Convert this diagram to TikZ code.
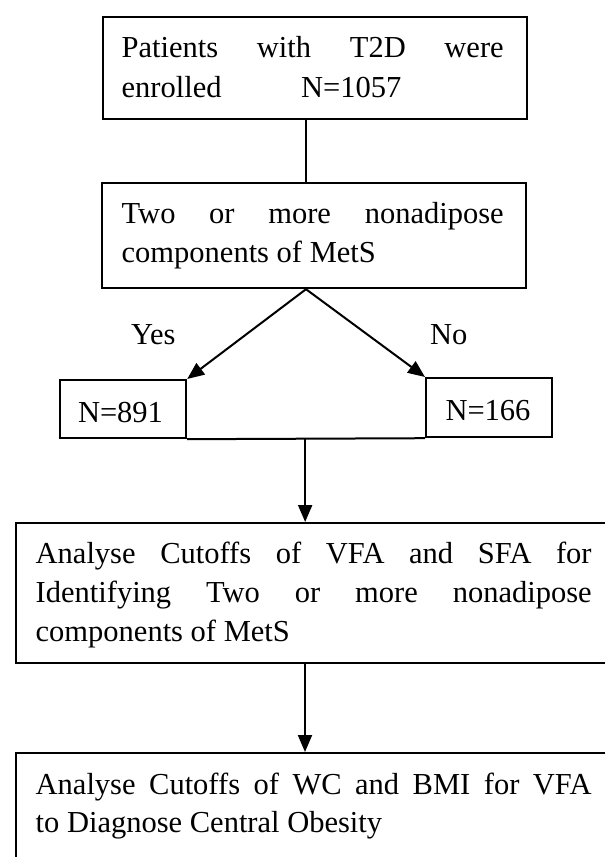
\documentclass[tikz,border=0pt]{standalone}
\usepackage{fontspec}
\setmainfont{Liberation Serif}
\usetikzlibrary{arrows.meta,calc}
\begin{document}
\begin{tikzpicture}[x=1pt,y=-1pt,
  box/.style={draw=black, line width=2.2pt, rectangle, inner sep=0pt, anchor=north west},
  txt/.style={inner sep=0pt, anchor=base west, font=\fontsize{30.5}{36}\selectfont},
  ctxt/.style={txt, anchor=base},
  conn/.style={draw=black, line width=2pt},
  arr/.style={conn, -{Triangle[length=17pt,width=14pt]}}]
\useasboundingbox (0,0) rectangle (605,857);
\clip (0,0) rectangle (605,857);
\fill[white] (0,0) rectangle (605,857);

% boxes
\node[box, minimum width=424pt, minimum height=102pt] (b1) at (102,16) {};
\node[box, minimum width=424pt, minimum height=105pt] (b2) at (101,182) {};
\node[box, minimum width=126pt, minimum height=58pt] (b891) at (59,379) {};
\node[box, minimum width=126pt, minimum height=59pt] (b166) at (425,377) {};
\node[box, minimum width=640pt, minimum height=140pt] (b3) at (15,522) {};
\node[box, minimum width=640pt, minimum height=150pt] (b4) at (15,752) {};

% texts
\node[txt] (t1a) at (121.5,57) {\makebox[382pt][s]{Patients with T2D were}};
\node[txt] (t1b) at (121.5,97) {enrolled\hspace*{79.5pt}N=1057};
\node[txt] (t2a) at (121.5,223) {\makebox[382pt][s]{Two or more nonadipose}};
\node[txt] (t2b) at (121.5,262) {components of MetS};
\node[txt] (yes) at (131,344) {Yes};
\node[txt] (no) at (430,344) {No};
\node[ctxt] (n891) at (120.5,422) {N=891};
\node[ctxt] (n166) at (488,420) {N=166};
\node[txt] (t3a) at (35.5,563) {\makebox[556pt][s]{Analyse Cutoffs of VFA and SFA for}};
\node[txt] (t3b) at (35.5,602) {\makebox[556pt][s]{Identifying Two or more nonadipose}};
\node[txt] (t3c) at (35.5,641) {components of MetS};
\node[txt] (t4a) at (35.5,794) {\makebox[556pt][s]{Analyse Cutoffs of WC and BMI for VFA}};
\node[txt] (t4b) at (35.5,832) {to Diagnose Central Obesity};

% connectors
\draw[conn] ($(b1.south west)+(204,0)$) -- ($(b2.north west)+(205,0)$);
\coordinate (apex) at ($(b2.south west)+(205,0)$);
\draw[arr] (apex) -- (b891.north east);
\draw[arr] (apex) -- (b166.north west);
\draw[conn] (b891.south east) -- (b166.south west);
\coordinate (m) at ($(b891.south east)!0.496!(b166.south west)$);
\draw[arr] (m) -- (m |- b3.north);
\draw[arr] ($(b3.south west)+(290,0)$) -- ($(b4.north west)+(290,0)$);
\end{tikzpicture}
\end{document}
